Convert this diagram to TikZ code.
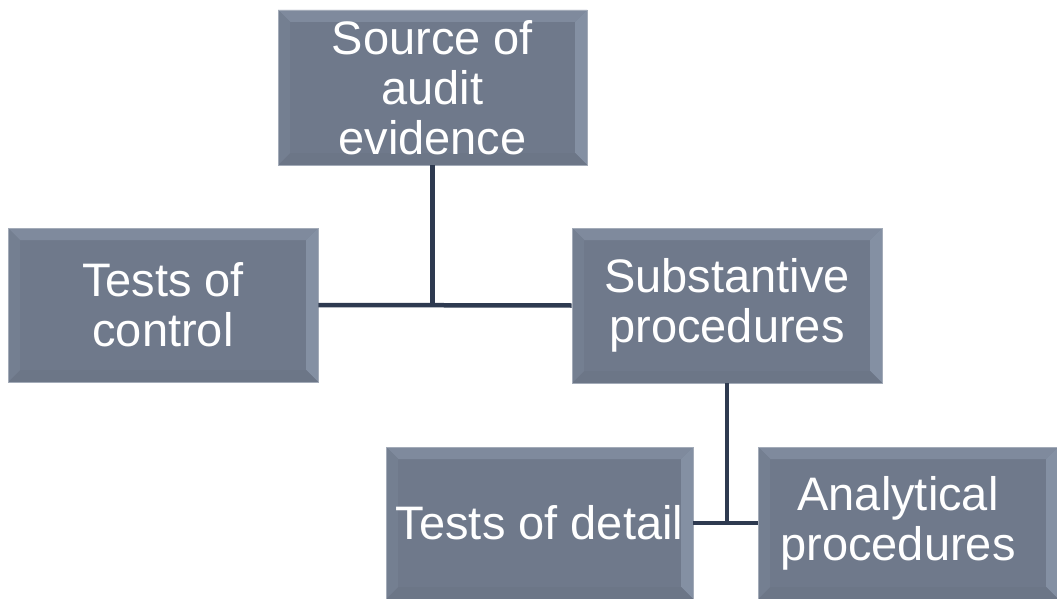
\documentclass[tikz,border=0pt]{standalone}
\usepackage{fontspec}
\setmainfont{Liberation Sans}
\definecolor{face}{HTML}{6F798B}
\definecolor{bevtop}{HTML}{7F8A9D}
\definecolor{bevleft}{HTML}{747F91}
\definecolor{bevright}{HTML}{8490A3}
\definecolor{bevbot}{HTML}{6C7687}
\definecolor{edge}{HTML}{A3ABB8}
\definecolor{conn}{HTML}{2E3A50}
\tikzset{
  bevelbox/.style={rectangle, fill=face, draw=edge, line width=0.7pt, inner sep=0pt,
    text=white, font=\fontsize{47}{50}\selectfont, align=center,
    path picture={
      \def\b{12pt}
      \path (path picture bounding box.north west) coordinate (nw)
            (path picture bounding box.north east) coordinate (ne)
            (path picture bounding box.south west) coordinate (sw)
            (path picture bounding box.south east) coordinate (se);
      \fill[bevtop] (nw) -- (ne) -- ([xshift=-\b,yshift=-\b]ne) -- ([xshift=\b,yshift=-\b]nw) -- cycle;
      \fill[bevright] (ne) -- (se) -- ([xshift=-\b,yshift=\b]se) -- ([xshift=-\b,yshift=-\b]ne) -- cycle;
      \fill[bevbot] (se) -- (sw) -- ([xshift=\b,yshift=\b]sw) -- ([xshift=-\b,yshift=\b]se) -- cycle;
      \fill[bevleft] (sw) -- (nw) -- ([xshift=\b,yshift=-\b]nw) -- ([xshift=\b,yshift=\b]sw) -- cycle;
    }},
  connector/.style={draw=conn, line width=4.5pt}
}
\begin{document}
\begin{tikzpicture}[x=1pt,y=-1pt]
\useasboundingbox (0,0) rectangle (1057,599);
\node[bevelbox, minimum width=309pt, minimum height=155pt] (src) at (432.5,87.5) {\raisebox{-7pt}[\height][\depth]{\begin{tabular}{@{}c@{}}Source of\\audit\\evidence\end{tabular}}};
\node[bevelbox, minimum width=310pt, minimum height=154pt] (toc) at (163,305) {Tests of\\control};
\node[bevelbox, minimum width=310pt, minimum height=155pt] (sub) at (727,305.5) {Substantive\\procedures};
\node[bevelbox, minimum width=307pt, minimum height=152pt] (tod) at (539.5,523) {Tests of detail};
\node[bevelbox, minimum width=300pt, minimum height=152pt] (ana) at (908,523) {Analytical\hspace*{20pt}\\procedures\hspace*{20pt}};
\draw[connector] (toc.east) -- (sub.west);
\draw[connector] (src.south) -- (src.south |- toc.east);
\draw[connector] (tod.east) -- (ana.west);
\draw[connector] (sub.south) -- (sub.south |- tod.east);
\end{tikzpicture}
\end{document}
